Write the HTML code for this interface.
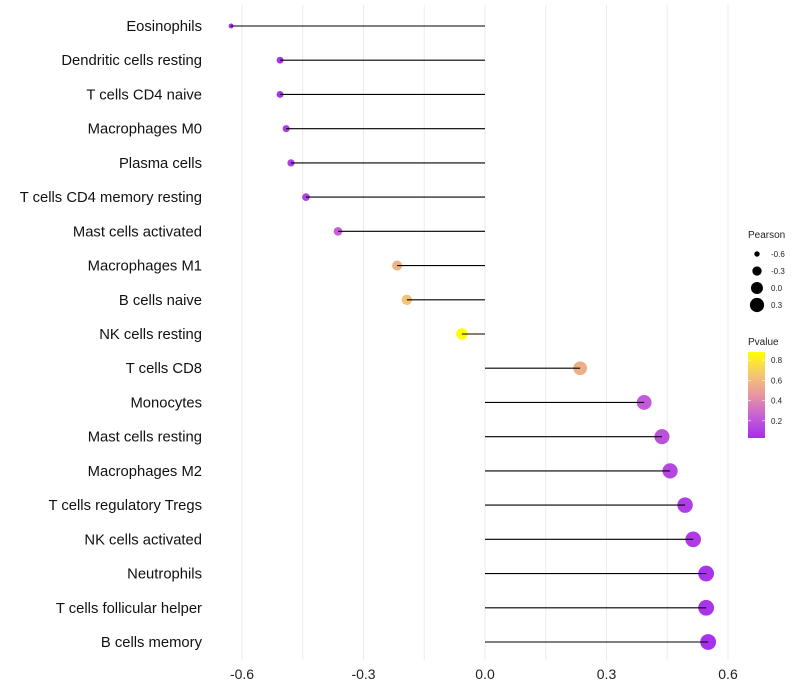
<!DOCTYPE html>
<html><head><meta charset="utf-8"><style>
body{margin:0;background:#fff;}
svg{display:block;font-family:"Liberation Sans",sans-serif;}
</style></head><body>
<svg id="chart" width="800" height="700"></svg>
<script>
const categories=["Eosinophils","Dendritic cells resting","T cells CD4 naive","Macrophages M0","Plasma cells","T cells CD4 memory resting","Mast cells activated","Macrophages M1","B cells naive","NK cells resting","T cells CD8","Monocytes","Mast cells resting","Macrophages M2","T cells regulatory  Tregs ","NK cells activated","Neutrophils","T cells follicular helper","B cells memory"];
const pearson=[-0.627,-0.506,-0.506,-0.491,-0.479,-0.442,-0.363,-0.217,-0.193,-0.057,0.235,0.393,0.437,0.457,0.494,0.514,0.546,0.546,0.551];
const pvalues=[0.03,0.06,0.06,0.08,0.09,0.12,0.25,0.58,0.64,0.88,0.56,0.22,0.18,0.14,0.1,0.09,0.06,0.06,0.05];
const xTicks=[-0.6,-0.3,0.0,0.3,0.6];
const xTickLabels=["-0.6","-0.3","0.0","0.3","0.6"];
const sizeLegend=[-0.6,-0.3,0.0,0.3];
const sizeLegendLabels=["-0.6","-0.3","0.0","0.3"];
const colorLegend=[0.2,0.4,0.6,0.8];

const NS="http://www.w3.org/2000/svg";
const svg=document.getElementById('chart');
function el(t,a,p){const e=document.createElementNS(NS,t);for(const k in a)e.setAttribute(k,a[k]);(p||svg).appendChild(e);return e;}
const x=v=>485+v*405;
const y=i=>26+i*(642-26)/18;
const r=v=>Math.sqrt(Math.max(4,6+48*(v+0.627)));
const stops=[[0,[165,45,238]],[0.25,[198,95,212]],[0.5,[232,150,160]],[0.75,[245,200,110]],[1,[255,255,0]]];
function col(p){const t=Math.max(0,Math.min(1,(p-0.03)/(0.88-0.03)));
for(let i=0;i<stops.length-1;i++){const a=stops[i],b=stops[i+1];if(t<=b[0]){const f=(t-a[0])/(b[0]-a[0]);return 'rgb('+a[1].map((c,k)=>Math.round(c+(b[1][k]-c)*f)).join(',')+')';}}return 'rgb(255,255,0)';}

for(let v=-0.6;v<=0.61;v+=0.15){const g=el('line',{x1:x(v),x2:x(v),y1:5,y2:660,stroke:'#ebebeb','stroke-width':1});

}
xTicks.forEach((v,i)=>{const t=el('text',{x:x(v),y:679,'text-anchor':'middle','font-size':14,fill:'#222'});t.textContent=xTickLabels[i];

});

categories.forEach((c,i)=>{
const t=el('text',{x:202,y:y(i)+5,'text-anchor':'end','font-size':14.8,fill:'#111'});t.textContent=c;


const d=el('circle',{cx:x(pearson[i]),cy:y(i),r:r(pearson[i]),fill:col(pvalues[i])});


const l=el('line',{x1:x(0),x2:x(pearson[i]),y1:y(i),y2:y(i),stroke:'#000','stroke-width':1.1});


});

const lg=el('g',{});


let tt=el('text',{x:748,y:238,'font-size':10,fill:'#222'},lg);tt.textContent='Pearson';
sizeLegend.forEach((v,i)=>{const cy=254+i*17;
const c=el('circle',{cx:757,cy:cy,r:r(v),fill:'#000'},lg);


const t=el('text',{x:771,y:cy+3,'font-size':8,fill:'#222'},lg);t.textContent=sizeLegendLabels[i];});
tt=el('text',{x:748,y:345,'font-size':10,fill:'#222'},lg);tt.textContent='Pvalue';
const defs=el('defs',{});const gr=el('linearGradient',{id:'pg',x1:0,y1:1,x2:0,y2:0},defs);
stops.forEach(s=>el('stop',{offset:s[0],'stop-color':'rgb('+s[1].join(',')+')'},gr));
const bar=el('rect',{x:748,y:352,width:17,height:86,fill:'url(#pg)'},lg);


const py=p=>438-(p-0.03)/(0.88-0.03)*86;
colorLegend.forEach(p=>{el('line',{x1:748,x2:751,y1:py(p),y2:py(p),stroke:'#fff','stroke-width':0.6},lg);el('line',{x1:762,x2:765,y1:py(p),y2:py(p),stroke:'#fff','stroke-width':0.6},lg);
const t=el('text',{x:771,y:py(p)+3,'font-size':8,fill:'#222'},lg);t.textContent=p.toFixed(1);});
</script>
</body></html>
